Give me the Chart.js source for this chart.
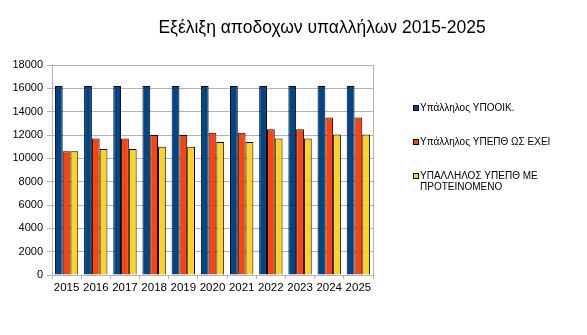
<!DOCTYPE html>
<html lang="el">
<head>
  <meta charset="UTF-8">
  <title>Εξέλιξη αποδοχων</title>
  <style>
    body { margin: 0; background: #fff; }
    #chart { display: block; }
  </style>
</head>
<body>
  <canvas id="chart" width="587" height="335"></canvas>

  <script src="https://cdn.jsdelivr.net/npm/chart.js"></script>
  <script>
    const chartTitle = "Εξέλιξη αποδοχων υπαλλήλων 2015-2025";
    const years = ["2015", "2016", "2017", "2018", "2019", "2020", "2021", "2022", "2023", "2024", "2025"];
    const seriesNames = ["Υπάλληλος ΥΠΟΟΙΚ.", "Υπάλληλος ΥΠΕΠΘ ΩΣ ΕΧΕΙ", "ΥΠΑΛΛΗΛΟΣ ΥΠΕΠΘ ΜΕ\nΠΡΟΤΕΙΝΟΜΕΝΟ"];
    const ypooik = [16200, 16200, 16200, 16200, 16200, 16200, 16200, 16200, 16200, 16200, 16200];
    const ypepthNow = [10600, 11700, 11700, 12000, 12000, 12200, 12200, 12500, 12500, 13500, 13500];
    const ypepthProposed = [10600, 10800, 10800, 11000, 11000, 11400, 11400, 11700, 11700, 12050, 12050];
    const yTicks = [0, 2000, 4000, 6000, 8000, 10000, 12000, 14000, 16000, 18000];

    const colors = ["#004586", "#ff420e", "#ffd320"];
    const font = "'Liberation Sans', Arial, sans-serif";

    // title, plot frame and legend are painted by hand
    const decor = {
      id: 'decor',
      afterDraw(chart) {
        const ctx = chart.ctx;
        const a = chart.chartArea;
        ctx.save();
        ctx.strokeStyle = '#b3b3b3';
        ctx.lineWidth = 1;
        ctx.strokeRect(Math.round(a.left) + 0.5, Math.round(a.top) + 0.5,
          Math.round(a.right - a.left), Math.round(a.bottom - a.top));

        ctx.fillStyle = '#000';
        ctx.font = "17.5px " + font;
        ctx.textAlign = 'center';
        ctx.textBaseline = 'alphabetic';
        ctx.fillText(chartTitle, 322, 33);

        ctx.font = "10px " + font;
        ctx.textAlign = 'left';
        ctx.textBaseline = 'middle';
        const rows = [108, 142, 176];
        chart.data.datasets.forEach((ds, i) => {
          const y = rows[i];
          ctx.fillStyle = ds.backgroundColor;
          ctx.fillRect(413, y - 3, 6, 6);
          ctx.strokeStyle = '#000';
          ctx.strokeRect(413.5, y - 2.5, 5, 5);
          ctx.fillStyle = '#000';
          ds.label.split('\n').forEach((line, j) => {
            ctx.fillText(line, 420, y + j * 11);
          });
        });
        ctx.restore();
      }
    };

    new Chart(document.getElementById('chart'), {
      type: 'bar',
      data: {
        labels: years,
        datasets: [
          { label: seriesNames[0], data: ypooik, backgroundColor: colors[0] },
          { label: seriesNames[1], data: ypepthNow, backgroundColor: colors[1] },
          { label: seriesNames[2], data: ypepthProposed, backgroundColor: colors[2] }
        ]
      },
      options: {
        responsive: false,
        animation: false,
        datasets: {
          bar: {
            borderColor: '#000',
            borderWidth: 1,
            categoryPercentage: 0.8,
            barPercentage: 1.0
          }
        },
        layout: { padding: { left: 0, right: 214, top: 65, bottom: 40 } },
        plugins: {
          legend: { display: false },
          title: { display: false },
          tooltip: { enabled: false }
        },
        scales: {
          x: {
            afterFit(scale) { scale.height = 20; },
            grid: {
              offset: true,
              drawOnChartArea: false,
              drawTicks: true,
              tickLength: 4,
              color: '#b3b3b3'
            },
            border: { color: '#b3b3b3' },
            ticks: {
              color: '#000',
              font: { family: font, size: 11.5 },
              padding: 2,
              maxRotation: 0
            }
          },
          y: {
            min: 0,
            max: 18000,
            afterFit(scale) { scale.width = 52; },
            afterBuildTicks(scale) { scale.ticks = yTicks.map(v => ({ value: v })); },
            grid: { color: '#b3b3b3', tickLength: 5 },
            border: { color: '#b3b3b3' },
            ticks: {
              color: '#000',
              font: { family: font, size: 11 },
              padding: 4,
              callback: v => String(v)
            }
          }
        }
      },
      plugins: [decor]
    });
  </script>
</body>
</html>
